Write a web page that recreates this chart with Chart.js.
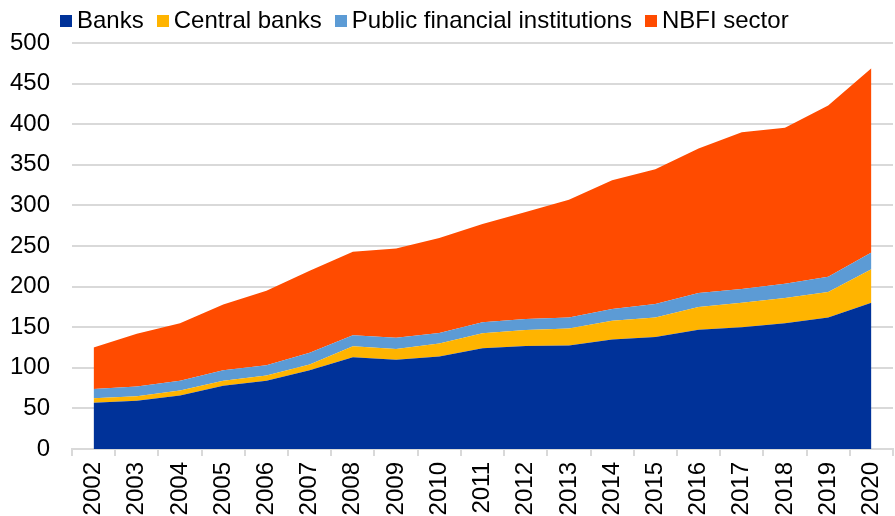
<!DOCTYPE html>
<html lang="en">
<head>
  <meta charset="UTF-8">
  <title>Financial assets by sector</title>
  <script src="https://cdn.jsdelivr.net/npm/chart.js"></script>
  <style>
    html, body {
      margin: 0;
      padding: 0;
      background: #fff;
    }
    #wrap {
      position: relative;
      width: 895px;
      height: 516px;
    }
    #legend {
      position: absolute;
      left: 60px;
      top: 6px;
      font-family: "Liberation Sans", Arial, sans-serif;
      font-size: 24px;
      color: #000;
      white-space: nowrap;
      line-height: 28px;
    }
    #legend span.item {
      margin-right: 13px;
    }
    #legend span.box {
      display: inline-block;
      width: 12px;
      height: 12px;
      margin-right: 5px;
      vertical-align: 1px;
    }
  </style>
</head>
<body>
  <div id="wrap">
    <canvas id="chart" width="895" height="516"></canvas>
    <div id="legend"></div>
  </div>

  <script>
    // years on the x axis
    const years = ["2002", "2003", "2004", "2005", "2006", "2007", "2008", "2009", "2010", "2011",
                   "2012", "2013", "2014", "2015", "2016", "2017", "2018", "2019", "2020"];

    // stacked values
    const banks = [57, 59.5, 66, 78, 84, 97, 113, 110, 114, 124, 127, 127.5, 135, 138, 147, 150, 155, 162, 180];
    const centralBanks = [5.5, 5.5, 6, 6, 6.5, 7, 13.5, 13, 16, 18.5, 19.5, 21, 23, 24, 28, 30, 31, 31.5, 41.5];
    const publicFin = [11.5, 12, 12, 13, 12.5, 14.5, 13.5, 14, 13, 13.5, 13.5, 13.5, 14.5, 16.5, 17, 17, 17.5, 18.5, 20.5];
    const nbfi = [51, 65, 71, 81, 92, 101, 103, 110, 117, 121, 132, 145, 158.5, 166, 178, 193, 192, 211, 227];

    const seriesNames = ["Banks", "Central banks", "Public financial institutions", "NBFI sector"];
    const seriesColors = ["#003299", "#FFB400", "#5C9BD5", "#FF4B00"];

    // y axis ticks
    const yMin = 0, yMax = 500, yStep = 50;

    const font = "'Liberation Sans', Arial, sans-serif";

    // html legend
    const legendDiv = document.getElementById("legend");
    seriesNames.forEach((name, i) => {
      legendDiv.innerHTML += `<span class="item"><span class="box" style="background:${seriesColors[i]}"></span>${name}</span>`;
    });

    const values = [banks, centralBanks, publicFin, nbfi];
    const datasets = values.map((v, i) => ({
      label: seriesNames[i],
      data: v,
      backgroundColor: seriesColors[i],
      borderColor: seriesColors[i],
      borderWidth: 0,
      pointRadius: 0,
      tension: 0,
      fill: i === 0 ? "origin" : "-1"
    }));

    new Chart(document.getElementById("chart"), {
      type: "line",
      data: { labels: years, datasets: datasets },
      options: {
        responsive: false,
        animation: false,
        layout: { padding: { top: 43, left: 10, right: 2, bottom: 0 } },
        plugins: {
          legend: { display: false },
          tooltip: { enabled: false }
        },
        scales: {
          x: {
            offset: true,
            grid: {
              offset: true,
              drawOnChartArea: false,
              drawTicks: true,
              tickLength: 7,
              color: "#d9d9d9",
              lineWidth: 2
            },
            border: { display: true, color: "#d9d9d9", width: 2 },
            ticks: {
              minRotation: 90,
              maxRotation: 90,
              padding: 6,
              color: "#000",
              font: { family: font, size: 24 }
            },
            // no extra side padding for the rotated labels, fixed axis height
            afterFit: (scale) => {
              scale.paddingLeft = 0;
              scale.paddingRight = 0;
              scale.height = 67;
            }
          },
          y: {
            stacked: true,
            min: yMin,
            max: yMax,
            ticks: {
              stepSize: yStep,
              padding: 22,
              color: "#000",
              font: { family: font, size: 24 }
            },
            grid: {
              color: "#d9d9d9",
              lineWidth: 2,
              drawTicks: false
            },
            border: { display: false },
            afterFit: (scale) => {
              scale.width = 62;
            }
          }
        }
      }
    });
  </script>
</body>
</html>
